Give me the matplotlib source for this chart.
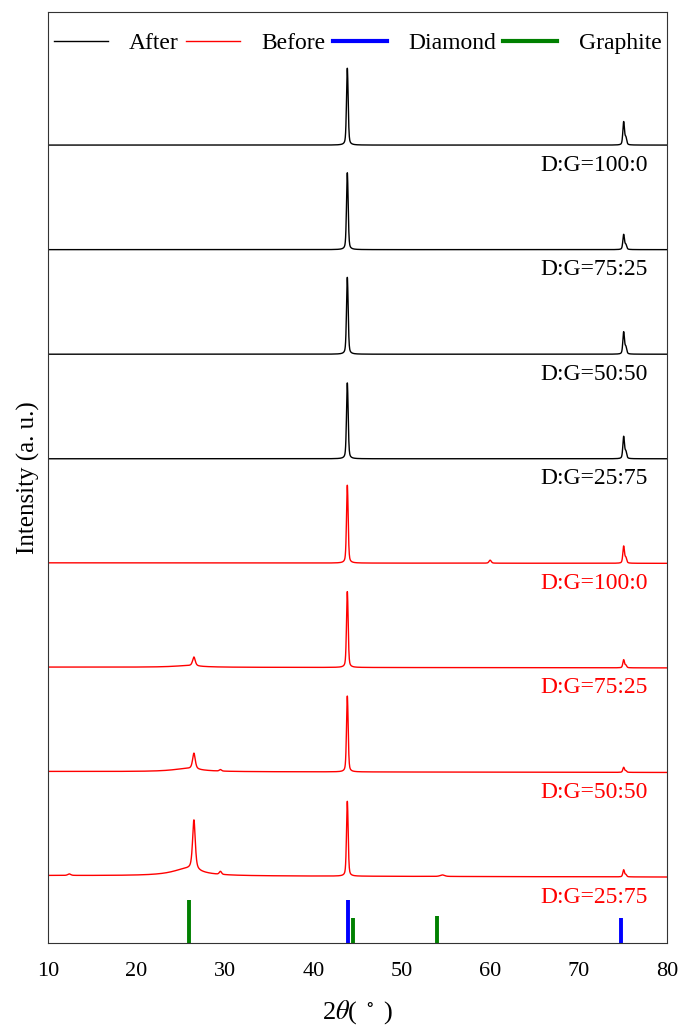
#XRD patterns before and after treatment, stacked
import numpy as np
import matplotlib.pyplot as plt

plt.rcParams['font.family'] = ['Liberation Serif', 'DejaVu Serif']
plt.rcParams['mathtext.fontset'] = 'stix'

# Samples (top to bottom)
labels = ['D:G=100:0', 'D:G=75:25', 'D:G=50:50', 'D:G=25:75',
          'D:G=100:0', 'D:G=75:25', 'D:G=50:50', 'D:G=25:75']
groups = ['After'] * 4 + ['Before'] * 4

# Peak tables: heights in plot units
diamond_111 = [77, 77, 77, 76, 78, 76, 76, 75]
diamond_220 = [23, 15, 22, 22, 17, 8, 5, 7]
graphite_002 = [0, 0, 0, 0, 0, 9, 16, 50]
graphite_tail = [0, 0, 0, 0, 0, 1.5, 3, 7]
# (centre 2theta, height, half width)
minor_peaks = [
    [], [], [], [],
    [(60.0, 3, 0.15)],
    [],
    [(29.5, 1.5, 0.15)],
    [(29.5, 3, 0.15), (12.4, 1.5, 0.2), (54.6, 1.5, 0.3)],
]
background_slope = [0, 0, 0, 0, 0.5, 0.8, 1.0, 1.5]

# Reference lines (JCPDS)
diamond_pos = [43.9, 74.8]
diamond_h = [43, 25]
graphite_pos = [26.0, 44.5, 54.0]
graphite_h = [43, 25, 27]

spacing = 104.6
x = np.linspace(10, 80, 4001)


def peak(x, c, h, w, eta=0.4):
    # pseudo-Voigt profile
    g = np.exp(-np.log(2) * ((x - c) / w) ** 2)
    l = 1 / (1 + ((x - c) / w) ** 2)
    return h * (eta * l + (1 - eta) * g)


fig, ax = plt.subplots(figsize=(6.82, 10.27), dpi=100)
fig.subplots_adjust(left=0.0704, right=0.978, bottom=0.0818, top=0.988)

n = len(labels)
for i in range(n):
    off = 66 + spacing * (n - 1 - i)
    y = peak(x, 43.85, diamond_111[i], 0.11)
    y += peak(x, 75.1, diamond_220[i], 0.11)
    y += peak(x, 75.35, diamond_220[i] * 0.3, 0.11)
    y += peak(x, 26.5, graphite_002[i], 0.18, eta=0.6)
    y += peak(x, 25.7, graphite_tail[i], 2.0, eta=1.0)
    for c, h, w in minor_peaks[i]:
        y += peak(x, c, h, w)
    y += background_slope[i] * (80 - x) / 70
    color = 'black' if groups[i] == 'After' else 'red'
    ax.plot(x, off + y, color=color, lw=1)
    ax.text(77.85, off - 20, labels[i], color=color, fontsize=17,
            ha='right', va='center')

# Reference bars
for p, h in zip(diamond_pos, diamond_h):
    ax.plot([p, p], [0, h], color='blue', lw=2.8, solid_capstyle='butt')
for p, h in zip(graphite_pos, graphite_h):
    ax.plot([p, p], [0, h], color='green', lw=2.8, solid_capstyle='butt')

# Legend handles
ax.plot([], [], color='black', lw=1, label='After')
ax.plot([], [], color='red', lw=1, label='Before')
ax.plot([], [], color='blue', lw=3, label='Diamond')
ax.plot([], [], color='green', lw=3, label='Graphite')
ax.legend(loc='center', bbox_to_anchor=(0.5, 0.967), ncol=4, frameon=False,
          fontsize=17, handlelength=2.3, handletextpad=0.9, columnspacing=0.3,
          borderaxespad=0)

ax.set_xlim(10, 80)
ax.set_ylim(0, 931)
ax.set_xticks(range(10, 81, 10))
ax.set_yticks([])
ax.tick_params(axis='x', length=0, pad=14, labelsize=16)
for s in ax.spines.values():
    s.set_color('#333333')
ax.set_xlabel(r'2$\theta$( $^\circ$ )', fontsize=19, labelpad=12)
ax.set_ylabel('Intensity (a. u.)', fontsize=18, labelpad=6)

plt.savefig('out.png')
